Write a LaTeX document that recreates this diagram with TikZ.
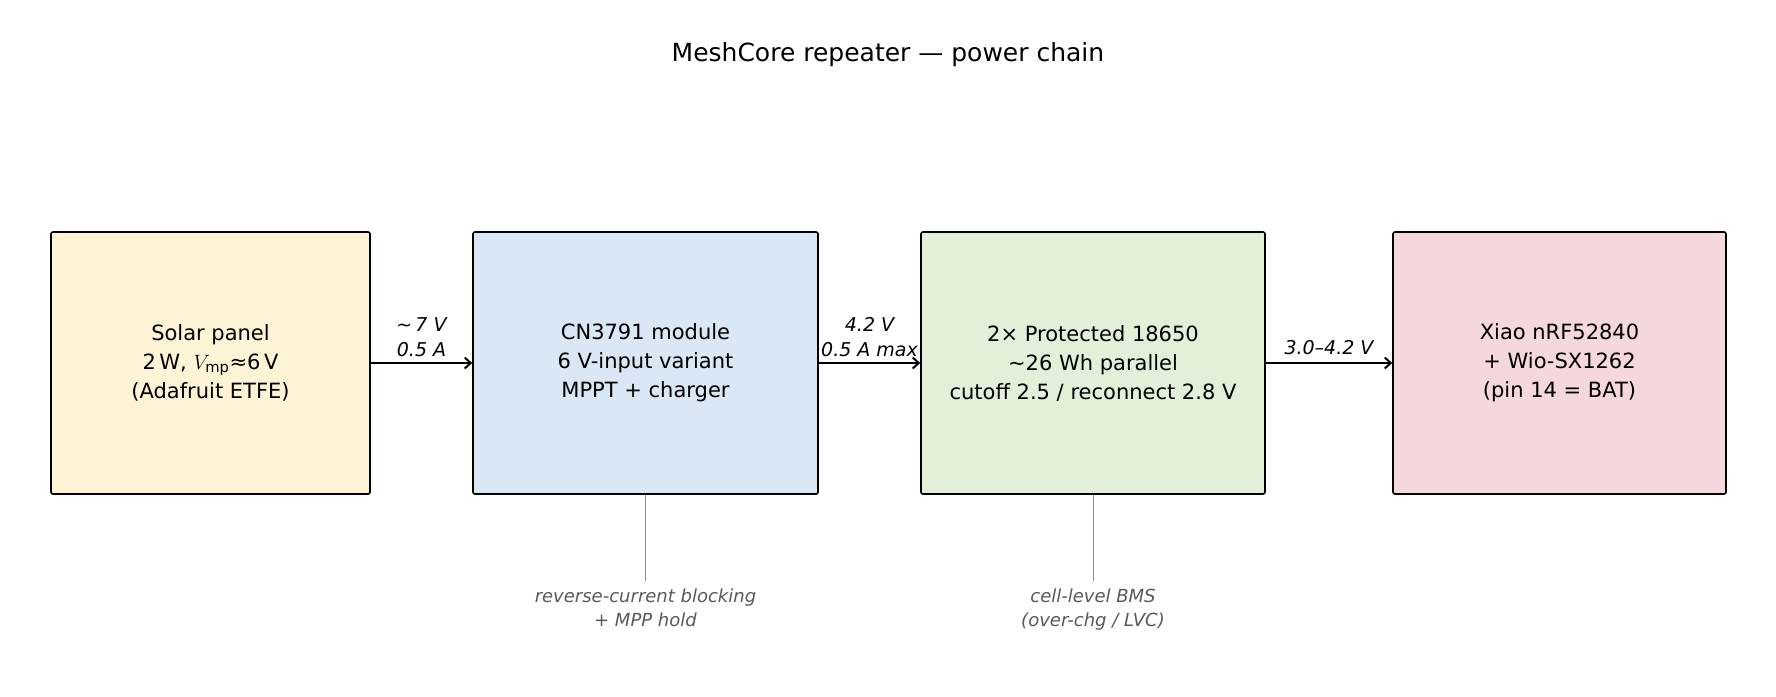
\documentclass[tikz,border=0pt]{standalone}
\usepackage{fontspec}
\setmainfont{DejaVu Sans}
\usetikzlibrary{positioning,arrows.meta}
\tikzset{
  block/.style={draw, line width=1.6pt, rounded corners=2pt, inner sep=0pt, align=center,
    font=\fontsize{21}{29}\selectfont},
  flow/.style={->, line width=2pt, >={Straight Barb[length=6pt,width=11pt]}},
  flowlabel/.style={font=\fontsize{19}{25}\selectfont\itshape, align=center},
  note/.style={font=\fontsize{18}{24}\selectfont\itshape, text=black!65, align=center},
  noteline/.style={draw=black!45, line width=0.9pt}
}
\definecolor{solarfill}{HTML}{FFF3D6}
\definecolor{chgfill}{HTML}{DAE7F4}
\definecolor{batfill}{HTML}{E2F0DA}
\definecolor{mcufill}{HTML}{F4D8DB}
\begin{document}
\begin{tikzpicture}[x=1pt,y=-1pt]
\useasboundingbox (0,0) rectangle (1776,696);
% title
\node[font=\fontsize{25}{30}\selectfont] (title) at (888,55) {MeshCore repeater — power chain};
% blocks
\node[block, fill=solarfill, minimum width=319pt, minimum height=262pt] (solar) at (210.5,363)
  {Solar panel\\2\,W, $V_{\mathrm{mp}}$≈6\,V\\(Adafruit ETFE)};
\node[block, fill=chgfill, minimum width=345pt, minimum height=262pt] (chg) at (645.5,363)
  {CN3791 module\\6 V-input variant\\MPPT + charger};
\node[block, fill=batfill, minimum width=344pt, minimum height=262pt] (bat) at (1093,363)
  {2× Protected 18650\\\textasciitilde26 Wh parallel\\cutoff 2.5 / reconnect 2.8 V};
\node[block, fill=mcufill, minimum width=333pt, minimum height=262pt] (mcu) at (1559.5,363)
  {Xiao nRF52840\\+ Wio-SX1262\\(pin 14 = BAT)};
% connectors
\draw[flow] (solar) -- node[flowlabel, above=2pt] {\textasciitilde\,7 V\\0.5 A} (chg);
\draw[flow] (chg) -- node[flowlabel, above=2pt] {4.2 V\\0.5 A max} (bat);
\draw[flow] (bat) -- node[flowlabel, above=4pt] {3.0–4.2 V} (mcu);
% notes
\coordinate (chgnote) at (645.5,581);
\coordinate (batnote) at (1093,581);
\draw[noteline] (chg.south) -- (chgnote);
\draw[noteline] (bat.south) -- (batnote);
\node[note, below=4pt of chgnote] {reverse-current blocking\\+ MPP hold};
\node[note, below=4pt of batnote] {cell-level BMS\\(over-chg / LVC)};
\end{tikzpicture}
\end{document}
